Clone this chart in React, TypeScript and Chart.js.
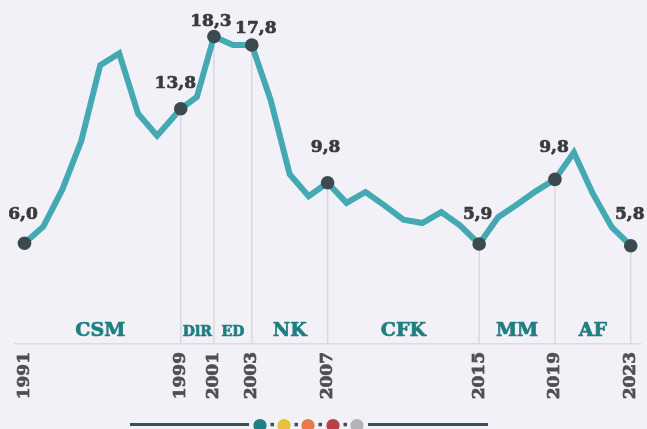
import React, { useEffect, useRef } from "react";
import { Chart, registerables } from "chart.js";

Chart.register(...registerables);

// ---- data ----
const xValues = [
  1991, 1992, 1993, 1994, 1995, 1996, 1997, 1998, 1999.25, 2000.1,
  2001, 2002, 2003, 2004, 2005, 2006, 2007, 2008, 2009, 2010,
  2011, 2012, 2013, 2014, 2015, 2016, 2017, 2018, 2019, 2020,
  2021, 2022, 2023,
];
const values = [
  6.0, 7.0, 9.2, 12.1, 16.6, 17.3, 13.7, 12.4, 14.0, 14.7,
  18.3, 17.8, 17.8, 14.5, 10.1, 8.8, 9.6, 8.4, 9.05, 8.25,
  7.4, 7.2, 7.85, 7.05, 5.95, 7.55, 8.3, 9.1, 9.8, 11.4,
  8.95, 6.95, 5.85,
];
const highlightX = [1991, 1999.25, 2001, 2003, 2007, 2015, 2019, 2023];
const highlightLabels = ["6,0", "13,8", "18,3", "17,8", "9,8", "5,9", "9,8", "5,8"];
const tickValues = [1991, 1999.25, 2001, 2003, 2007, 2015, 2019, 2023];
const tickLabels = ["1991", "1999", "2001", "2003", "2007", "2015", "2019", "2023"];
const periodNames = ["CSM", "DlR", "ED", "NK", "CFK", "MM", "AF"];
const periodBounds = [1990.75, 1999.25, 2001, 2003, 2007, 2015, 2019, 2023];

// ---- layout / style (not data) ----
const labelOffsets = [
  [-1.5, 24.5], [-5.5, 21], [-3, 11], [4, 12], [-2, 30.5], [-1.5, 25.5], [-1, 27.5], [-1, 26.5],
];
const smallPeriod = ["DlR", "ED"];
const BG = "#f2f1f7";
const FONT = "'DejaVu Serif', serif";

function heavyText(ctx: any, text: string, px: number, py: number, color: string) {
  ctx.fillStyle = color;
  ctx.strokeStyle = color;
  ctx.lineWidth = 0.7;
  ctx.lineJoin = "round";
  ctx.strokeText(text, px, py);
  ctx.fillText(text, px, py);
}

const overlayPlugin = {
  id: "overlay",
  beforeDatasetsDraw(chart: any) {
    const { ctx } = chart;
    const x = chart.scales.x;
    const y = chart.scales.y;
    ctx.save();
    ctx.strokeStyle = "#d8d8de";
    ctx.lineWidth = 1.5;
    highlightX.forEach((hx, i) => {
      if (i === 0) return;
      const v = values[xValues.indexOf(hx)];
      const px = x.getPixelForValue(hx);
      ctx.beginPath();
      ctx.moveTo(px, y.getPixelForValue(v));
      ctx.lineTo(px, y.getPixelForValue(0));
      ctx.stroke();
    });
    ctx.textAlign = "center";
    ctx.textBaseline = "alphabetic";
    periodNames.forEach((name, i) => {
      const cx = (x.getPixelForValue(periodBounds[i]) + x.getPixelForValue(periodBounds[i + 1])) / 2;
      const small = smallPeriod.includes(name);
      ctx.font = `bold ${small ? 14 : 19}px ${FONT}`;
      heavyText(ctx, name, cx, y.getPixelForValue(0) - 8, "#1f7e82");
    });
    ctx.restore();
  },
  afterDatasetsDraw(chart: any) {
    const { ctx } = chart;
    const x = chart.scales.x;
    const y = chart.scales.y;
    ctx.save();
    ctx.font = `bold 17px ${FONT}`;
    ctx.textAlign = "center";
    ctx.textBaseline = "alphabetic";
    highlightX.forEach((hx, i) => {
      const v = values[xValues.indexOf(hx)];
      const [dx, dy] = labelOffsets[i];
      heavyText(ctx, highlightLabels[i], x.getPixelForValue(hx) + dx, y.getPixelForValue(v) - dy, "#3a3a3c");
    });
    ctx.restore();
  },
  afterDraw(chart: any) {
    const { ctx } = chart;
    ctx.save();
    const fy = 424.5;
    ctx.strokeStyle = "#3d4f54";
    ctx.lineWidth = 3;
    ctx.beginPath();
    ctx.moveTo(130, fy);
    ctx.lineTo(249, fy);
    ctx.moveTo(368, fy);
    ctx.lineTo(488, fy);
    ctx.stroke();
    const dots = [
      [260, "#1f7e86"],
      [284, "#e8c13a"],
      [308, "#e67a4a"],
      [333, "#b8404b"],
      [357, "#b3b3b5"],
    ];
    dots.forEach(([dxp, c]: any, i) => {
      ctx.fillStyle = c;
      ctx.beginPath();
      ctx.arc(dxp, fy + 1, 6.6, 0, Math.PI * 2);
      ctx.fill();
      if (i < dots.length - 1) {
        ctx.fillStyle = "#3d4f54";
        ctx.fillRect(dxp + 10.5, fy - 1.7, 3.5, 3.5);
      }
    });
    ctx.restore();
  },
};

export default function App() {
  const ref = useRef<HTMLCanvasElement | null>(null);
  useEffect(() => {
    document.body.style.margin = "0";
    document.body.style.background = BG;
    const canvas = ref.current!;
    const chart = new Chart(canvas, {
      type: "line",
      data: {
        datasets: [
          {
            label: "highlights",
            data: highlightX.map((hx) => ({ x: hx, y: values[xValues.indexOf(hx)] })),
            showLine: false,
            pointRadius: 6.8,
            pointBackgroundColor: "#3a4a4e",
            pointBorderWidth: 0,
            order: 0,
          },
          {
            label: "series",
            data: xValues.map((xv, i) => ({ x: xv, y: values[i] })),
            borderColor: "#45a9b3",
            borderWidth: 6,
            borderCapStyle: "round",
            borderJoinStyle: "miter",
            pointRadius: 0,
            tension: 0,
            fill: false,
            order: 1,
          },
        ],
      },
      options: {
        animation: false,
        responsive: false,
        devicePixelRatio: 1,
        clip: false as any,
        layout: { padding: { top: 8, left: 15, right: 5, bottom: 0 } },
        plugins: { legend: { display: false }, tooltip: { enabled: false } },
        scales: {
          x: {
            type: "linear",
            min: 1990.5,
            max: 2023.5,
            afterBuildTicks: (axis: any) => {
              axis.ticks = tickValues.map((v) => ({ value: v }));
            },
            afterFit: (scale: any) => {
              scale.height = 85;
              scale.paddingLeft = 0;
              scale.paddingRight = 0;
            },
            grid: { display: false, drawTicks: false },
            border: { display: true, color: "#dcdce0", width: 1.5 },
            ticks: {
              autoSkip: false,
              minRotation: 90,
              maxRotation: 90,
              padding: 8,
              color: "#4f4f4f",
              textStrokeColor: "#4f4f4f",
              textStrokeWidth: 0.7,
              font: { family: FONT, size: 17, weight: "bold" },
              callback: (_v: any, i: number) => tickLabels[i],
            } as any,
          },
          y: {
            display: false,
            min: 0,
            max: 20,
          },
        },
      },
      plugins: [overlayPlugin],
    });
    return () => chart.destroy();
  }, []);
  return (
    <div style={{ width: 647, height: 429, background: BG }}>
      <canvas ref={ref} width={647} height={429} style={{ display: "block" }} />
    </div>
  );
}
